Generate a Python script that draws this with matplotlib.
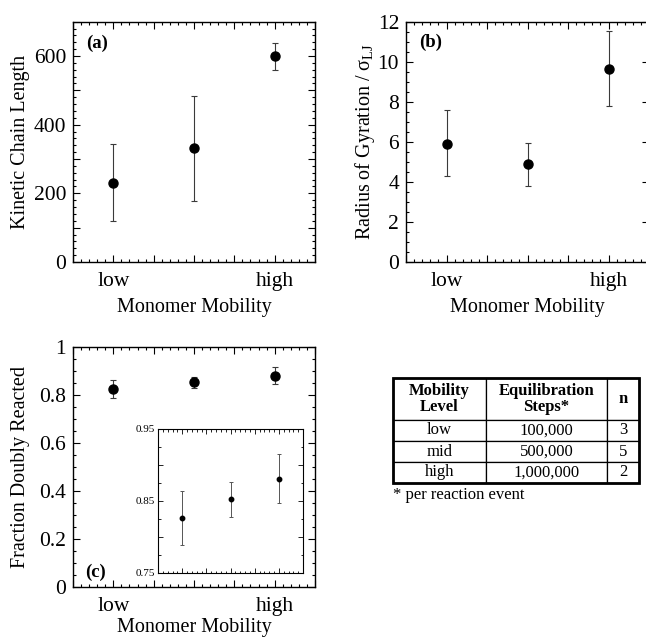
import matplotlib
matplotlib.use("Agg")
import matplotlib.pyplot as plt
from matplotlib.ticker import MultipleLocator
from matplotlib.patches import Rectangle

plt.rcParams['font.family'] = ['Liberation Serif', 'DejaVu Serif']
plt.rcParams['mathtext.fontset'] = 'custom'
plt.rcParams['mathtext.rm'] = 'Liberation Serif'
plt.rcParams['mathtext.it'] = 'Liberation Serif:italic'
plt.rcParams['mathtext.bf'] = 'Liberation Serif:bold'

# ---- data ----
levels = [1, 2, 3]

kcl = [231, 331, 600]
kcl_lo = [113, 152, 42]
kcl_hi = [113, 152, 38]

rg = [5.91, 4.87, 9.64]
rg_lo = [1.61, 1.07, 1.87]
rg_hi = [1.66, 1.09, 1.91]

fdr = [0.826, 0.853, 0.880]
fdr_lo = [0.037, 0.025, 0.033]
fdr_hi = [0.038, 0.024, 0.035]

table_header = ["Mobility\nLevel", "Equilibration\nSteps*", "n"]
table_levels = ["low", "mid", "high"]
table_steps = ["100,000", "500,000", "1,000,000"]
table_n = ["3", "5", "2"]
footnote = "* per reaction event"

W, H = 646, 641
fig = plt.figure(figsize=(W / 100, H / 100), dpi=100)


def rect(l, r, t, b):
    return [l / W, (H - b) / H, (r - l) / W, (b - t) / H]


err_color = '#3a3a3a'
TICK_FS = 15.5
LAB_FS = 14.5


def style(ax, ymaj, ymin, xpad=7, ypad=5):
    ax.set_xlim(0.5, 3.5)
    ax.xaxis.set_minor_locator(MultipleLocator(0.1))
    ax.set_xticks([0.5, 1, 1.5, 2, 2.5, 3, 3.5])
    ax.set_xticklabels(["", "low", "", "", "", "high", ""])
    ax.yaxis.set_major_locator(MultipleLocator(ymaj))
    ax.yaxis.set_minor_locator(MultipleLocator(ymin))
    ax.tick_params(which='both', direction='in', top=True, right=True, width=0.8)
    ax.tick_params(which='major', length=5)
    ax.tick_params(which='minor', length=2.5)
    ax.tick_params(axis='x', which='major', labelsize=TICK_FS, pad=xpad)
    ax.tick_params(axis='y', which='major', labelsize=TICK_FS, pad=ypad)
    for s in ax.spines.values():
        s.set_linewidth(1.0)


# ---- panel (a) ----
axa = fig.add_axes(rect(73, 315, 21.7, 262))
axa.errorbar(levels, kcl, yerr=[kcl_lo, kcl_hi], fmt='o', color='black', ms=6.5,
             ecolor=err_color, elinewidth=0.8, capsize=2, capthick=0.8)
style(axa, 100, 20)
axa.set_ylim(0, 700)
axa.set_yticks([0, 100, 200, 300, 400, 500, 600, 700])
axa.set_yticklabels(["0", "", "200", "", "400", "", "600", ""])
axa.set_ylabel("Kinetic Chain Length", fontsize=LAB_FS)
axa.yaxis.label.set_va('center')
axa.yaxis.set_label_coords(-0.219, 0.5)
axa.set_xlabel("Monomer Mobility", fontsize=LAB_FS)
axa.xaxis.label.set_va('center')
axa.xaxis.set_label_coords(0.5, -0.19)
axa.text(0.099, 0.912, "(a)", transform=axa.transAxes, fontsize=13.5,
         fontweight='bold', ha='center', va='center')

# ---- panel (b) ----
axb = fig.add_axes(rect(406, 649, 21.7, 262))
axb.errorbar(levels, rg, yerr=[rg_lo, rg_hi], fmt='o', color='black', ms=6.5,
             ecolor=err_color, elinewidth=0.8, capsize=2, capthick=0.8)
style(axb, 2, 0.5)
axb.set_ylim(0, 12)
axb.set_ylabel("Radius of Gyration / σ" + r"$_{\mathrm{LJ}}$", fontsize=LAB_FS)
axb.yaxis.label.set_va('center')
axb.yaxis.set_label_coords(-0.169, 0.5)
axb.set_xlabel("Monomer Mobility", fontsize=LAB_FS)
axb.xaxis.label.set_va('center')
axb.xaxis.set_label_coords(0.5, -0.19)
axb.text(0.103, 0.915, "(b)", transform=axb.transAxes, fontsize=13.5,
         fontweight='bold', ha='center', va='center')

# ---- panel (c) ----
axc = fig.add_axes(rect(73, 315, 347, 587))
axc.errorbar(levels, fdr, yerr=[fdr_lo, fdr_hi], fmt='o', color='black', ms=6.5,
             ecolor=err_color, elinewidth=0.8, capsize=2, capthick=0.8)
style(axc, 0.2, 0.05)
axc.set_ylim(0, 1)
axc.set_yticks([0, 0.2, 0.4, 0.6, 0.8, 1.0])
axc.set_yticklabels(["0", "0.2", "0.4", "0.6", "0.8", "1"])
axc.set_ylabel("Fraction Doubly Reacted", fontsize=LAB_FS)
axc.yaxis.label.set_va('center')
axc.yaxis.set_label_coords(-0.219, 0.5)
axc.set_xlabel("Monomer Mobility", fontsize=LAB_FS)
axc.xaxis.label.set_va('center')
axc.xaxis.set_label_coords(0.5, -0.17)
axc.text(0.091, 0.06, "(c)", transform=axc.transAxes, fontsize=13.5,
         fontweight='bold', ha='center', va='center')

# ---- inset ----
axi = fig.add_axes(rect(158, 303, 429, 573))
axi.errorbar(levels, fdr, yerr=[fdr_lo, fdr_hi], fmt='o', color='black', ms=3.2,
             ecolor='#555555', elinewidth=0.7, capsize=1.5, capthick=0.7)
axi.set_xlim(0.5, 3.5)
axi.set_ylim(0.75, 0.95)
axi.xaxis.set_major_locator(MultipleLocator(0.5))
axi.xaxis.set_minor_locator(MultipleLocator(0.1))
axi.set_xticklabels([])
axi.set_yticks([0.75, 0.8, 0.85, 0.9, 0.95])
axi.set_yticklabels(["0.75", "", "0.85", "", "0.95"])
axi.yaxis.set_minor_locator(MultipleLocator(0.025))
axi.tick_params(which='both', direction='in', top=True, right=True, width=0.6)
axi.tick_params(which='major', length=3.5, labelsize=8, pad=2)
axi.tick_params(which='minor', length=1.8)
for s in axi.spines.values():
    s.set_linewidth(0.8)

# ---- table ----
axt = fig.add_axes(rect(393, 639, 378, 483))
axt.set_axis_off()
cell_text = [table_header] + [[a, b, c] for a, b, c in zip(table_levels, table_steps, table_n)]
col_w = [93, 121, 32]
tbl = axt.table(cellText=cell_text, colWidths=[w / sum(col_w) for w in col_w],
                cellLoc='center', bbox=[0, 0, 1, 1])
tbl.auto_set_font_size(False)
row_h = [42, 21, 21, 21]
for (r, c), cell in tbl.get_celld().items():
    cell.set_height(row_h[r] / sum(row_h))
    cell.set_linewidth(0.9)
    cell.get_text().set_fontsize(12)
    cell.PAD = 0.02
    if r == 0:
        cell.get_text().set_fontweight('bold')
        cell.get_text().set_linespacing(1.0)
axt.add_patch(Rectangle((0, 0), 1, 1, transform=axt.transAxes, fill=False,
                        lw=2.0, edgecolor='black', clip_on=False, zorder=5))
fig.text(393 / W, 1 - 495 / H, footnote, fontsize=12, ha='left', va='center')

fig.savefig("out.png", dpi=100)
